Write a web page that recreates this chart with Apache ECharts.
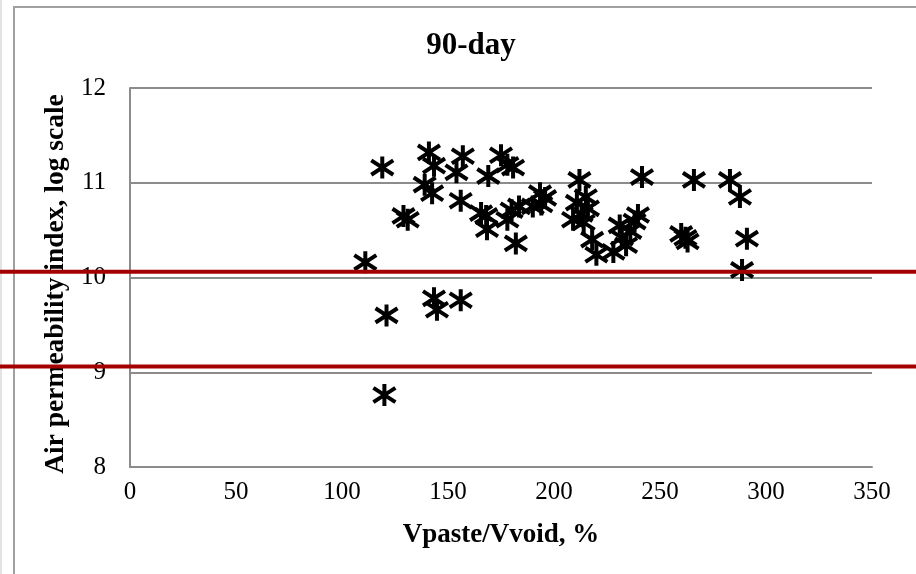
<!DOCTYPE html>
<html>
<head>
<meta charset="utf-8">
<script src="https://cdn.jsdelivr.net/npm/echarts@6/dist/echarts.min.js"></script>
<style>html,body{margin:0;padding:0;background:#fff}#c{width:916px;height:574px}</style>
</head>
<body>
<div id="c"></div>
<script>
const titleText = '90-day';
const xName = 'Vpaste/Vvoid, %';
const yName = 'Air permeability index, log scale';
const xTicks = { min: 0, max: 350, interval: 50 };
const yTicks = { min: 8, max: 12, interval: 1 };
const xValues = [111,119,121,120,129,131,139,141,142.5,143.4,143.4,144.8,154,156,157,156,165.6,168,169,168.4,175,178,180.7,178,180,182,183.5,190,193.4,195.8,194,209,212,210.8,213,215,216,214,218,220,228,231,232,234,236,238,239.6,241.5,260,262,263,266,283,287.7,291,288.7];
const yValues = [10.16,11.16,9.60,8.76,10.65,10.61,10.98,11.32,10.89,11.18,9.78,9.66,11.11,9.76,11.28,10.81,10.68,10.65,11.07,10.51,11.29,11.19,11.16,10.61,10.71,10.36,10.75,10.75,10.89,10.84,10.77,10.61,11.03,10.79,10.67,10.85,10.73,10.58,10.40,10.24,10.27,10.55,10.42,10.34,10.49,10.59,10.66,11.06,10.46,10.42,10.38,11.03,11.03,10.85,10.41,10.08];
const refLines = [10.06, 9.06];

const serif = '"Liberation Serif","Times New Roman",serif';
const chart = echarts.init(document.getElementById('c'), null, {renderer: 'canvas'});
const option = {
  animation: false,
  backgroundColor: '#fff',
  title: {
    text: titleText, left: 466, top: 25, textAlign: 'center',
    textStyle: {fontFamily: serif, fontWeight: 'bold', fontSize: 31, color: '#000'}
  },
  grid: {left: 130, right: 44, top: 88, bottom: 107, containLabel: false},
  xAxis: {
    type: 'value', min: xTicks.min, max: xTicks.max, interval: xTicks.interval,
    name: xName, nameLocation: 'middle', nameGap: 55,
    nameTextStyle: {fontFamily: serif, fontWeight: 'bold', fontSize: 27, color: '#000'},
    axisLine: {show: true, lineStyle: {color: '#8c8c8c', width: 2}},
    axisTick: {show: false},
    splitLine: {show: false},
    axisLabel: {fontFamily: serif, fontSize: 25, color: '#000', margin: 13}
  },
  yAxis: {
    type: 'value', min: yTicks.min, max: yTicks.max, interval: yTicks.interval,
    name: yName, nameLocation: 'middle', nameGap: 55,
    nameTextStyle: {fontFamily: serif, fontWeight: 'bold', fontSize: 27.5, color: '#000', padding: [0, 13, 0, 0]},
    axisLine: {show: true, lineStyle: {color: '#8c8c8c', width: 2}},
    axisTick: {show: false},
    splitLine: {show: true, lineStyle: {color: '#8c8c8c', width: 2}},
    axisLabel: {fontFamily: serif, fontSize: 25, color: '#000', margin: 24}
  },
  series: [{
    type: 'scatter',
    data: xValues.map((x, i) => [x, yValues[i]]),
    symbol: 'path://M10 0V20M0 3.5L20 16.5M0 16.5L20 3.5',
    symbolSize: 22,
    itemStyle: {color: 'rgba(0,0,0,0)', borderColor: '#000', borderWidth: 4, opacity: 1}
  }]
};
chart.setOption(option);

const graphics = [
  {type: 'rect', shape: {x: 14, y: 7, width: 1000, height: 1000}, style: {fill: null, stroke: '#a0a0a0', lineWidth: 2}, z: 100},
  {type: 'line', shape: {x1: 1, y1: 0, x2: 1, y2: 574}, style: {stroke: '#c8c8c8', lineWidth: 1}, z: 100}
];
refLines.forEach(v => {
  const py = chart.convertToPixel({gridIndex: 0}, [0, v])[1];
  graphics.push({type: 'line', shape: {x1: 0, y1: py, x2: 916, y2: py}, style: {stroke: '#a50000', lineWidth: 4}, z: 100});
});
chart.setOption({graphic: graphics});
</script>
</body>
</html>
